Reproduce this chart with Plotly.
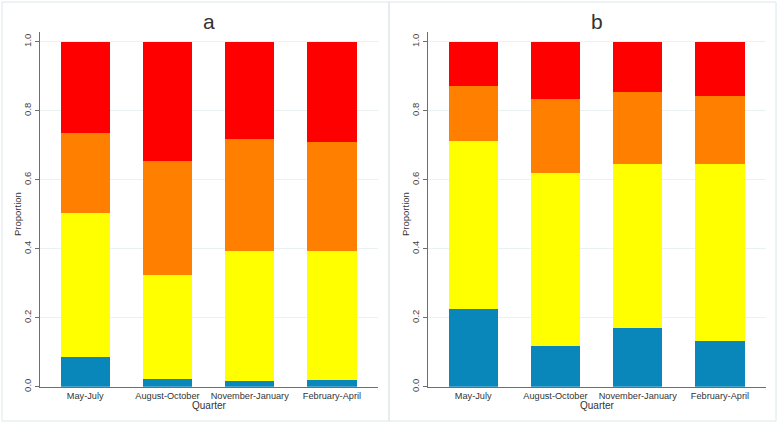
import plotly.graph_objects as go
from plotly.subplots import make_subplots

quarters = ["May-July", "August-October", "November-January", "February-April"]
series_names = ["Blue", "Yellow", "Orange", "Red"]

# Panel a segment proportions
a_blue = [0.085, 0.022, 0.017, 0.020]
a_yellow = [0.419, 0.303, 0.376, 0.373]
a_orange = [0.232, 0.330, 0.324, 0.316]
a_red = [0.264, 0.345, 0.283, 0.291]

# Panel b segment proportions
b_blue = [0.226, 0.119, 0.170, 0.132]
b_yellow = [0.485, 0.500, 0.475, 0.513]
b_orange = [0.161, 0.214, 0.208, 0.198]
b_red = [0.128, 0.167, 0.147, 0.157]

y_ticks = [0.0, 0.2, 0.4, 0.6, 0.8, 1.0]
y_tick_labels = ["0.0", "0.2", "0.4", "0.6", "0.8", "1.0"]

colors = ["#0a87ba", "#ffff00", "#ff8000", "#ff0000"]

W, H = 778, 425
fig = make_subplots(rows=1, cols=2)

for col, data in [(1, [a_blue, a_yellow, a_orange, a_red]), (2, [b_blue, b_yellow, b_orange, b_red])]:
    for name, vals, c in zip(series_names, data, colors):
        fig.add_trace(go.Bar(x=quarters, y=vals, name=name, marker=dict(color=c, line=dict(width=0)),
                             showlegend=False), row=1, col=col)

font = "Liberation Sans, Arial, sans-serif"
y_bottom = 1 - 386.7 / H
y_top = 1 - 31.7 / H
axis_common_y = dict(range=[0, 1.029], tickvals=y_ticks, ticktext=y_tick_labels, tickangle=-90,
                     showline=True, linecolor="#6e6e6e", linewidth=1.3, ticks="outside", ticklen=4,
                     tickcolor="#6e6e6e", showgrid=True, gridcolor="#eaf1f3", gridwidth=1,
                     zeroline=False, tickfont=dict(size=9.5, color="#444444", family=font),
                     domain=[y_bottom, y_top], fixedrange=True, automargin=False)
axis_common_x = dict(showline=True, linecolor="#6e6e6e", linewidth=1.3, ticks="", range=[-0.55, 3.56],
                     tickangle=0, automargin=False, fixedrange=True,
                     tickfont=dict(size=9.2, color="#333333", family=font), showgrid=False)

fig.update_layout(
    template="none",
    width=W, height=H, margin=dict(l=0, r=0, t=0, b=0, pad=0),
    paper_bgcolor="white", plot_bgcolor="white", barmode="stack", bargap=0.4,
    font=dict(family=font),
    xaxis=dict(domain=[40 / W, 378 / W], **axis_common_x),
    xaxis2=dict(domain=[428 / W, 766 / W], **axis_common_x),
    yaxis=axis_common_y,
    yaxis2=axis_common_y,
)

# panel frames
for x0, x1 in [(2, 389), (389, 776)]:
    fig.add_shape(type="rect", xref="paper", yref="paper", x0=x0 / W, x1=x1 / W,
                  y0=1 - 421 / H, y1=1 - 2 / H, line=dict(color="#dce6e9", width=1), fillcolor="rgba(0,0,0,0)",
                  layer="below")

for title, xc, yl in [("a", 209, 17), ("b", 597, 405)]:
    fig.add_annotation(text=title, xref="paper", yref="paper", x=xc / W, y=1 - 22 / H, showarrow=False,
                       font=dict(size=21, color="#333333", family=font), xanchor="center", yanchor="middle")
    fig.add_annotation(text="Proportion", xref="paper", yref="paper", x=yl / W, y=1 - 214 / H, showarrow=False,
                       textangle=-90, font=dict(size=9.5, color="#333333", family=font),
                       xanchor="center", yanchor="middle")
    fig.add_annotation(text="Quarter", xref="paper", yref="paper", x=xc / W, y=1 - 405.5 / H, showarrow=False,
                       font=dict(size=10, color="#333333", family=font), xanchor="center", yanchor="middle")

fig.write_html("out.html", config={"displayModeBar": False},
               post_script="document.body.style.margin='0';document.body.style.overflow='hidden';")
